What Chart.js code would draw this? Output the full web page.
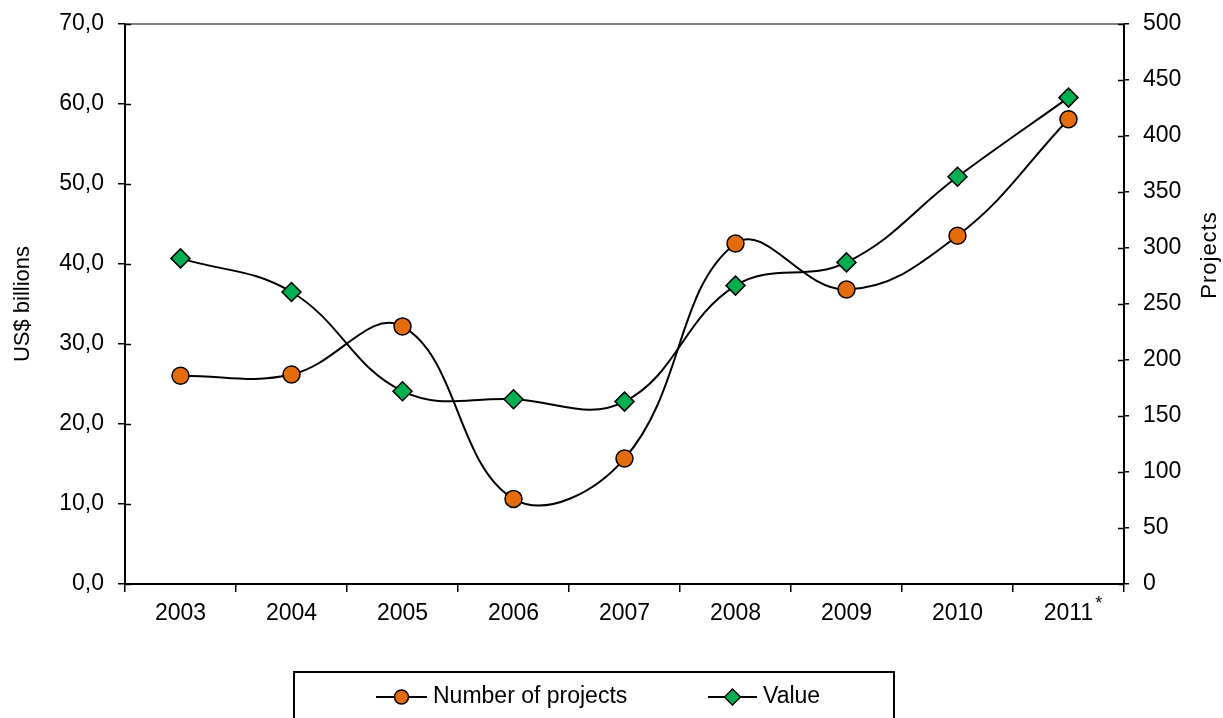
<!DOCTYPE html>
<html>
<head>
<meta charset="utf-8">
<title>Projects and value, 2003–2011</title>
<script src="https://cdn.jsdelivr.net/npm/chart.js@4.4.0/dist/chart.umd.min.js"></script>
<style>
  html, body { margin: 0; padding: 0; background: #fff; }
  #wrap { width: 1223px; height: 718px; position: relative; }
</style>
</head>
<body>
<div id="wrap"><canvas id="projectsChart"></canvas></div>
<script>
// Yearly data
const years = ['2003', '2004', '2005', '2006', '2007', '2008', '2009', '2010', '2011'];
const projectCounts = [186, 187, 230, 76, 112, 304, 263, 311, 415];
const valueBillions = [40.7, 36.5, 24.1, 23.1, 22.8, 37.3, 40.2, 50.9, 60.8];
const provisionalYear = '2011';

const FONT = "'Liberation Sans', Arial, sans-serif";
const ORANGE = '#e46c0a';
const GREEN = '#00b050';

// Extra drawing: top frame edge, inner tick halves, right axis title,
// footnote mark on the provisional year and the boxed legend.
const extrasPlugin = {
    id: 'extras',
    afterDraw(chart) {
        const ctx = chart.ctx;
        const area = chart.chartArea;
        const xs = chart.scales.x;
        const yl = chart.scales.y;
        const yr = chart.scales.y1;

        ctx.save();

        // grey top edge of the plot
        ctx.strokeStyle = '#808080';
        ctx.lineWidth = 2;
        ctx.beginPath();
        ctx.moveTo(area.left, area.top);
        ctx.lineTo(area.right, area.top);
        ctx.stroke();

        // tick marks cross the vertical axes
        ctx.strokeStyle = '#000';
        ctx.lineWidth = 1.5;
        ctx.beginPath();
        yl.ticks.forEach(function(t, i) {
            const py = Math.round(yl.getPixelForTick(i)) + 0.5;
            ctx.moveTo(area.left, py);
            ctx.lineTo(area.left + 6, py);
        });
        yr.ticks.forEach(function(t, i) {
            const py = Math.round(yr.getPixelForTick(i)) + 0.5;
            ctx.moveTo(area.right, py);
            ctx.lineTo(area.right - 6, py);
        });
        ctx.stroke();

        // right axis title, reading bottom to top
        ctx.fillStyle = '#000';
        ctx.font = '22px ' + FONT;
        ctx.textAlign = 'center';
        ctx.textBaseline = 'middle';
        ctx.save();
        ctx.translate(1210, 255);
        ctx.rotate(-Math.PI / 2);
        if ('letterSpacing' in ctx) ctx.letterSpacing = '1px';
        ctx.fillText('Projects', 0, 0);
        ctx.restore();

        // asterisk after the provisional year label
        const idx = years.indexOf(provisionalYear);
        if (idx >= 0) {
            ctx.font = '23px ' + FONT;
            const lx = xs.getPixelForTick(idx);
            const w = ctx.measureText(provisionalYear).width;
            ctx.font = '18px ' + FONT;
            ctx.textAlign = 'left';
            ctx.textBaseline = 'top';
            ctx.fillText('*', lx + w / 2 + 2, area.bottom + 11);
        }

        // legend box
        const boxTop = 672;
        ctx.strokeStyle = '#000';
        ctx.lineWidth = 2;
        ctx.strokeRect(294, boxTop, 600, 80);

        const items = [
            { ds: chart.data.datasets[0], x0: 376, x1: 427, tx: 433 },
            { ds: chart.data.datasets[1], x0: 708, x1: 757, tx: 763 }
        ];
        const ly = 697;
        ctx.font = '23px ' + FONT;
        ctx.textAlign = 'left';
        ctx.textBaseline = 'middle';
        items.forEach(function(it) {
            ctx.strokeStyle = '#000';
            ctx.lineWidth = 2;
            ctx.beginPath();
            ctx.moveTo(it.x0, ly);
            ctx.lineTo(it.x1, ly);
            ctx.stroke();
            ctx.fillStyle = it.ds.pointBackgroundColor;
            ctx.strokeStyle = '#000';
            ctx.lineWidth = 1.5;
            Chart.helpers.drawPoint(ctx, {
                pointStyle: it.ds.pointStyle,
                radius: it.ds.pointStyle === 'circle' ? 7 : 8,
                borderWidth: 1.5,
                rotation: 0
            }, (it.x0 + it.x1) / 2, ly);
            ctx.fillStyle = '#000';
            ctx.fillText(it.ds.label, it.tx, ly);
        });

        ctx.restore();
    }
};

// fixed widths for the vertical axes, no extra room for label overflow
function fixAxisWidth(width) {
    return function(scale) {
        scale.width = width;
        scale.paddingTop = 0;
        scale.paddingBottom = 0;
    };
}

document.addEventListener('DOMContentLoaded', function() {
    const canvas = document.getElementById('projectsChart');

    const tickFont = { family: FONT, size: 23 };

    new Chart(canvas, {
        type: 'line',
        data: {
            labels: years,
            datasets: [
                {
                    label: 'Number of projects',
                    data: projectCounts,
                    yAxisID: 'y1',
                    borderColor: '#000',
                    borderWidth: 2,
                    tension: 0.4,
                    pointStyle: 'circle',
                    pointRadius: 8.5,
                    pointHoverRadius: 8.5,
                    pointBackgroundColor: ORANGE,
                    pointBorderColor: '#000',
                    pointBorderWidth: 1.5,
                    order: 1
                },
                {
                    label: 'Value',
                    data: valueBillions,
                    yAxisID: 'y',
                    borderColor: '#000',
                    borderWidth: 2,
                    tension: 0.4,
                    pointStyle: 'rectRot',
                    pointRadius: 9.5,
                    pointHoverRadius: 9.5,
                    pointBackgroundColor: GREEN,
                    pointBorderColor: '#000',
                    pointBorderWidth: 1.5,
                    order: 0
                }
            ]
        },
        options: {
            responsive: true,
            maintainAspectRatio: false,
            animation: false,
            layout: { padding: { top: 24, left: 0, right: 0, bottom: 0 } },
            plugins: {
                legend: { display: false },
                tooltip: { enabled: false }
            },
            scales: {
                x: {
                    offset: true,
                    grid: {
                        offset: true,
                        drawOnChartArea: false,
                        tickLength: 8,
                        color: '#000',
                        lineWidth: 1.5
                    },
                    border: { color: '#000', width: 2 },
                    ticks: {
                        color: '#000',
                        font: tickFont,
                        padding: 8,
                        maxRotation: 0,
                        autoSkip: false
                    },
                    afterFit: function(scale) { scale.height = 134; }
                },
                y: {
                    position: 'left',
                    min: 0,
                    max: 70,
                    grid: {
                        drawOnChartArea: false,
                        tickLength: 7,
                        color: '#000',
                        lineWidth: 1.5
                    },
                    border: { color: '#000', width: 2 },
                    ticks: {
                        stepSize: 10,
                        color: '#000',
                        font: tickFont,
                        padding: 14,
                        callback: function(value) {
                            return value.toFixed(1).replace('.', ',');
                        }
                    },
                    title: {
                        display: true,
                        text: 'US$ billions',
                        color: '#000',
                        font: { family: FONT, size: 22 },
                        padding: { top: 10, bottom: 0 }
                    },
                    afterFit: fixAxisWidth(125)
                },
                y1: {
                    position: 'right',
                    min: 0,
                    max: 500,
                    grid: {
                        drawOnChartArea: false,
                        tickLength: 5,
                        color: '#000',
                        lineWidth: 1.5
                    },
                    border: { color: '#000', width: 2 },
                    ticks: {
                        stepSize: 50,
                        color: '#000',
                        font: tickFont,
                        padding: 14
                    },
                    afterFit: fixAxisWidth(99)
                }
            }
        },
        plugins: [extrasPlugin]
    });
});
</script>
</body>
</html>
